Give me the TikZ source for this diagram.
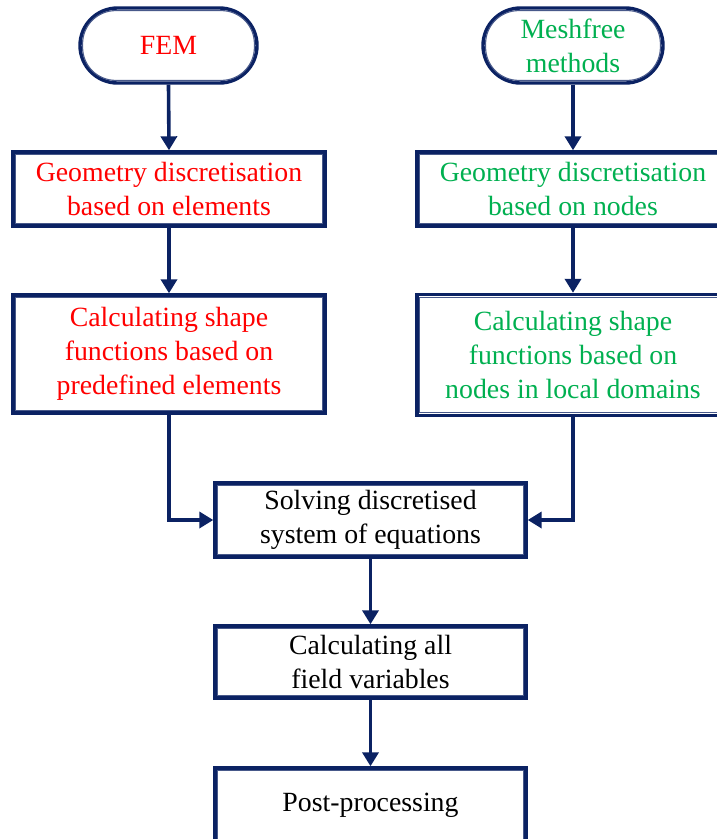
\documentclass[tikz,border=0pt]{standalone}
\usepackage{fontspec}
\setmainfont{Liberation Serif}
\usetikzlibrary{arrows.meta}
\definecolor{navy}{HTML}{0B2263}
\definecolor{fred}{HTML}{FF0000}
\definecolor{fgreen}{HTML}{00B050}
\begin{document}
\begin{tikzpicture}[x=1pt,y=-1pt,
  every node/.style={font=\fontsize{27.8}{34}\selectfont, align=center, inner sep=0pt},
  box/.style={draw=navy, line width=3.4pt, fill=white, minimum width=312pt, minimum height=74pt},
  term/.style={draw=navy, line width=3.4pt, fill=white, rounded corners=37.5pt, minimum height=75pt},
  arr/.style={draw=navy, line width=3.6pt, -{Triangle[length=14pt,width=16pt]}},
  inner/.style={draw=navy!75, line width=1.1pt}]
\clip (0,0) rectangle (717,839);
\fill[white] (0,0) rectangle (717,839);
% terminals
\node[term, minimum width=177pt, text=fred] (fem) at (168.5,45.5) {FEM};
\node[term, minimum width=180pt, text=fgreen] (mf) at (573,45.5) {Meshfree\\methods};
% left column
\node[box, text=fred] (g1) at (169,189) {Geometry discretisation\\based on elements};
\node[box, minimum height=118pt, text=fred] (c1) at (169,354) {Calculating shape\\functions based on\\predefined elements};
% right column
\node[box, text=fgreen] (g2) at (573,189) {Geometry discretisation\\based on nodes};
\node[box, minimum height=121pt, text=fgreen] (c2) at (573,355) {Calculating shape\\functions based on\\nodes in local domains};
% center
\node[box, minimum width=311pt, text=black] (s) at (370.5,520) {Solving discretised\\system of equations};
\node[box, minimum width=311pt, minimum height=72pt, text=black] (f) at (370.5,662) {Calculating all\\field variables};
\node[box, minimum width=311pt, minimum height=74pt, text=black] (p) at (370.5,805) {Post-processing};
% inner thin lines
\foreach \n in {g1,c1,g2,c2,s,f,p}{
  \draw[inner] ([shift={(4.3pt,4.3pt)}]\n.south west) rectangle ([shift={(-4.3pt,-4.3pt)}]\n.north east);
}
\foreach \n in {fem,mf}{
  \draw[inner, rounded corners=33pt] ([shift={(4.3pt,4.3pt)}]\n.south west) rectangle ([shift={(-4.3pt,-4.3pt)}]\n.north east);
}
% connectors
\draw[arr] (fem.south) -- (g1.north);
\draw[arr] (g1.south) -- (c1.north);
\draw[arr] (mf.south) -- (g2.north);
\draw[arr] (g2.south) -- (c2.north);
\draw[arr] (c1.south) |- (s.west);
\draw[arr] (c2.south) |- (s.east);
\draw[arr] (s.south) -- (f.north);
\draw[arr] (f.south) -- (p.north);
\end{tikzpicture}
\end{document}
